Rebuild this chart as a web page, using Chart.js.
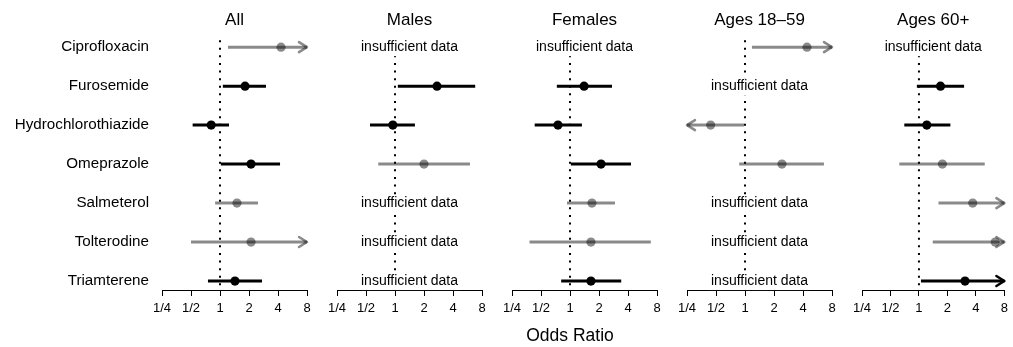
<!DOCTYPE html>
<html>
<head>
<meta charset="utf-8">
<script src="https://cdn.jsdelivr.net/npm/chart.js@4.4.1/dist/chart.umd.min.js"></script>
<style>
  body { margin: 0; background: #fff; overflow: hidden; }
  #wrap { position: relative; width: 1013px; height: 347px; font-family: "Liberation Sans", Arial, sans-serif; }
  #wrap canvas { position: absolute; top: 0; }
  #xlabel { position: absolute; left: 570px; top: 324px; transform: translateX(-50%); font-size: 17.5px; line-height: 22px; color: #000; white-space: nowrap; }
</style>
</head>
<body>
<div id="wrap">
  <canvas id="p0"></canvas>
  <canvas id="p1"></canvas>
  <canvas id="p2"></canvas>
  <canvas id="p3"></canvas>
  <canvas id="p4"></canvas>
  <div id="xlabel">Odds Ratio</div>
</div>
<script>
const drugs = ["Ciprofloxacin", "Furosemide", "Hydrochlorothiazide", "Omeprazole", "Salmeterol", "Tolterodine", "Triamterene"];
const panelTitles = ["All", "Males", "Females", "Ages 18\u201359", "Ages 60+"];
const tickValues = [0.25, 0.5, 1, 2, 4, 8];
const tickLabels = ["1/4", "1/2", "1", "2", "4", "8"];

// odds ratio, lower / upper CI, significant (black) -- null = insufficient data
// upper values above 8 / lower below 1/4 run off the axis (drawn as arrows)
const allOR  = [4.3, 1.82, 0.81, 2.1, 1.5, 2.1, 1.43];
const allLo  = [1.21, 1.07, 0.52, 1.02, 0.89, 0.5, 0.75];
const allHi  = [12, 3.0, 1.24, 4.2, 2.48, 12, 2.73];
const allSig = [0, 1, 1, 1, 0, 0, 1];

const malesOR  = [null, 2.73, 0.95, 2.0, null, null, null];
const malesLo  = [null, 1.07, 0.55, 0.67, null, null, null];
const malesHi  = [null, 6.8, 1.61, 6.0, null, null, null];
const malesSig = [0, 1, 1, 0, 0, 0, 0];

const femalesOR  = [null, 1.4, 0.75, 2.1, 1.69, 1.65, 1.65];
const femalesLo  = [null, 0.73, 0.43, 1.02, 0.93, 0.38, 0.81];
const femalesHi  = [null, 2.73, 1.33, 4.3, 2.93, 6.9, 3.4];
const femalesSig = [0, 1, 1, 1, 0, 0, 1];

const youngOR  = [4.4, null, 0.44, 2.42, null, null, null];
const youngLo  = [1.18, null, 0.18, 0.87, null, null, null];
const youngHi  = [12, null, 0.98, 6.6, null, null, null];
const youngSig = [0, 0, 0, 0, 0, 0, 0];

const oldOR  = [null, 1.69, 1.21, 1.77, 3.7, 6.4, 3.07];
const oldLo  = [null, 0.95, 0.70, 0.62, 1.61, 1.4, 1.05];
const oldHi  = [null, 3.0, 2.15, 4.96, 12, 12, 12];
const oldSig = [0, 1, 1, 0, 0, 0, 1];

const panels = [
  { or: allOR, lo: allLo, hi: allHi, sig: allSig },
  { or: malesOR, lo: malesLo, hi: malesHi, sig: malesSig },
  { or: femalesOR, lo: femalesLo, hi: femalesHi, sig: femalesSig },
  { or: youngOR, lo: youngLo, hi: youngHi, sig: youngSig },
  { or: oldOR, lo: oldLo, hi: oldHi, sig: oldSig },
];

const GREY = "rgba(0,0,0,0.46)";
const X_MIN = 0.25, X_MAX = 8;
const Y_MIN = -0.43, Y_MAX = 6.23;
const FONT = "'Liberation Sans', Arial, sans-serif";

Chart.defaults.font.family = FONT;
Chart.defaults.color = "#000";

function drawArrow(ctx, px, py, dir) {
  ctx.beginPath();
  ctx.moveTo(px - dir * 8, py - 5);
  ctx.lineTo(px, py);
  ctx.lineTo(px - dir * 8, py + 5);
  ctx.stroke();
}

// arrows for open-ended intervals + "insufficient data" labels
function makeOverlay(p) {
  return {
    id: "overlay",
    afterDatasetsDraw(chart) {
      const { ctx, chartArea, scales: { x, y } } = chart;
      ctx.save();
      ctx.lineJoin = "round";
      ctx.lineCap = "round";
      p.or.forEach((v, i) => {
        const py = y.getPixelForValue(i);
        if (v == null) {
          const txt = "insufficient data";
          const cx = (chartArea.left + chartArea.right) / 2;
          ctx.font = "14px " + FONT;
          const w = ctx.measureText(txt).width;
          ctx.fillStyle = "#fff";
          ctx.fillRect(cx - w / 2 - 2, py - 8, w + 4, 17);
          ctx.fillStyle = "#000";
          ctx.textAlign = "center";
          ctx.textBaseline = "middle";
          ctx.fillText(txt, cx, py);
          return;
        }
        ctx.strokeStyle = p.sig[i] ? "#000" : GREY;
        ctx.lineWidth = 2.5;
        if (p.hi[i] > X_MAX) drawArrow(ctx, x.getPixelForValue(X_MAX), py, 1);
        if (p.lo[i] < X_MIN) drawArrow(ctx, x.getPixelForValue(X_MIN), py, -1);
      });
      ctx.restore();
    }
  };
}

function buildPanel(idx) {
  const p = panels[idx];
  const canvas = document.getElementById("p" + idx);
  const first = idx === 0;
  const areaLeft = 162 + 175 * idx;
  const padL = first ? 0 : 15;
  const left = first ? 0 : areaLeft - padL;
  const width = first ? 322 : (idx === 4 ? 1013 - left : 175);
  const padR = width - padL - (first ? 162 : 0) - 145;
  canvas.width = width;
  canvas.height = 347;
  canvas.style.left = left + "px";
  canvas.style.width = width + "px";
  canvas.style.height = "347px";

  const datasets = [];
  // points on top
  const pts = [], ptCols = [];
  p.or.forEach((v, i) => {
    if (v == null) return;
    pts.push({ x: v, y: i });
    ptCols.push(p.sig[i] ? "#000" : GREY);
  });
  datasets.push({
    type: "scatter", data: pts, order: 0,
    pointRadius: 4.6, pointHoverRadius: 4.6, pointBorderWidth: 0,
    pointBackgroundColor: ptCols, backgroundColor: ptCols, borderColor: "rgba(0,0,0,0)"
  });
  // CI segments
  p.or.forEach((v, i) => {
    if (v == null) return;
    const col = p.sig[i] ? "#000" : GREY;
    datasets.push({
      type: "line", order: 1,
      data: [{ x: Math.max(p.lo[i], X_MIN), y: i }, { x: Math.min(p.hi[i], X_MAX), y: i }],
      borderColor: col, borderWidth: 3, pointRadius: 0, borderCapStyle: "butt"
    });
  });
  // dotted reference line at OR = 1
  datasets.push({
    type: "line", order: 2,
    data: [{ x: 1, y: -0.18 }, { x: 1, y: Y_MAX }],
    borderColor: "#000", borderWidth: 2, borderDash: [2, 5.6], borderCapStyle: "butt", pointRadius: 0
  });

  new Chart(canvas, {
    type: "scatter",
    data: { datasets },
    plugins: [makeOverlay(p)],
    options: {
      responsive: false,
      animation: false,
      events: [],
      clip: false,
      layout: { padding: { left: padL, right: padR, top: 0, bottom: 0 } },
      plugins: {
        legend: { display: false },
        tooltip: { enabled: false },
        title: {
          display: true, text: panelTitles[idx], fullSize: false,
          font: { size: 17, weight: "normal" }, color: "#000",
          padding: { top: 10, bottom: 0 }
        }
      },
      scales: {
        x: {
          type: "logarithmic", min: X_MIN, max: X_MAX,
          afterBuildTicks: (s) => { s.ticks = tickValues.map((v) => ({ value: v })); },
          afterFit: (s) => { s.height = 57; },
          ticks: {
            autoSkip: false, maxRotation: 0, padding: 5,
            font: { size: 13 }, color: "#000",
            callback: (v, i) => tickLabels[i]
          },
          grid: { drawOnChartArea: false, drawTicks: true, tickLength: 6, tickColor: "#000", lineWidth: 1 },
          border: { display: true, color: "#000", width: 1 }
        },
        y: {
          type: "linear", min: Y_MIN, max: Y_MAX, reverse: true,
          display: first,
          afterBuildTicks: (s) => { s.ticks = drugs.map((d, i) => ({ value: i })); },
          afterFit: (s) => { if (first) s.width = 162; },
          ticks: {
            padding: 13, font: { size: 15.2 }, color: "#000",
            callback: (v) => drugs[v]
          },
          grid: { display: false, drawTicks: false },
          border: { display: false }
        }
      }
    }
  });
}

panels.forEach((p, i) => buildPanel(i));
</script>
</body>
</html>
